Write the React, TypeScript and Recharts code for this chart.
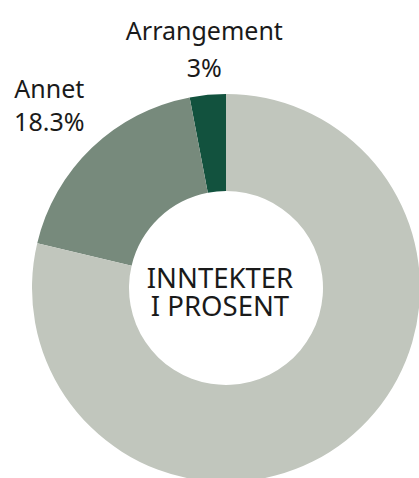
import { PieChart, Pie, Cell } from 'recharts'

const categories = ['Arrangement', 'Annet', 'Tilskudd']
const shares = [3, 18.3, 78.7]
const shownLabels = ['Arrangement', 'Annet']
const centerLines = ['INNTEKTER', 'I PROSENT']

const colors = ['#12523E', '#778A7C', '#C1C6BD']

const data = categories.map((name, i) => ({ name, value: shares[i] }))

const RAD = Math.PI / 180
const CX = 226
const CY = 288
const FONT = "'Noto Sans', sans-serif"

// small nudges so labels sit where the original put them
const labelNudge: Record<string, { r: number; dx: number; dy: number; gap: number }> = {
    Arrangement: { r: 36, dx: 0, dy: -19, gap: 37 },
    Annet: { r: 50, dx: -8, dy: -14, gap: 33 },
}

const renderLabel = (props: any) => {
    const { cx, cy, midAngle, outerRadius, name, value } = props
    if (!shownLabels.includes(name)) return null
    const n = labelNudge[name] || { r: 40, dx: 0, dy: 0, gap: 34 }
    const r = outerRadius + n.r
    const x = cx + r * Math.cos(-midAngle * RAD) + n.dx
    const y = cy + r * Math.sin(-midAngle * RAD)
    return (
        <text x={x} y={y} textAnchor="middle" fill="#1a1a1a" fontSize={25} fontFamily={FONT}>
            <tspan x={x} dy={n.dy}>{name}</tspan>
            <tspan x={x} dy={n.gap}>{`${value}%`}</tspan>
        </text>
    )
}

export default function App() {
    return (
        <div style={{ position: 'absolute', left: 0, top: 0, width: 419, height: 478, background: '#fff' }}>
            <PieChart width={419} height={478} margin={{ top: 0, right: 0, bottom: 0, left: 0 }}>
                <Pie
                    data={data}
                    dataKey="value"
                    nameKey="name"
                    cx={CX}
                    cy={CY}
                    innerRadius={97}
                    outerRadius={194}
                    startAngle={90}
                    endAngle={450}
                    stroke="none"
                    label={renderLabel}
                    labelLine={false}
                    isAnimationActive={false}
                >
                    {data.map((d, i) => (
                        <Cell key={d.name} fill={colors[i]} />
                    ))}
                </Pie>
                <text x={CX - 6} y={CY} textAnchor="middle" fill="#1a1a1a" fontSize={27.5} fontFamily={FONT}>
                    <tspan x={CX - 6} dy={0}>{centerLines[0]}</tspan>
                    <tspan x={CX - 6} dy={28}>{centerLines[1]}</tspan>
                </text>
            </PieChart>
        </div>
    )
}
